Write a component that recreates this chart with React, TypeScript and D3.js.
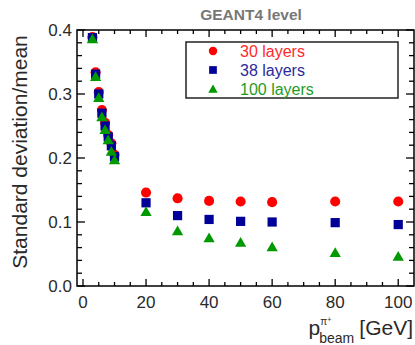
import React, { useEffect, useRef } from 'react';
import * as d3 from 'd3';

const momenta = [3, 4, 5, 6, 7, 8, 9, 10, 20, 30, 40, 50, 60, 80, 100];
const layers30 = [0.389, 0.334, 0.303, 0.275, 0.255, 0.236, 0.223, 0.205, 0.146, 0.137, 0.133, 0.132, 0.131, 0.132, 0.132];
const layers38 = [0.388, 0.331, 0.300, 0.270, 0.250, 0.233, 0.219, 0.202, 0.130, 0.110, 0.104, 0.101, 0.100, 0.099, 0.096];
const layers100 = [0.386, 0.327, 0.294, 0.264, 0.244, 0.228, 0.210, 0.197, 0.116, 0.086, 0.075, 0.068, 0.061, 0.052, 0.046];
const seriesNames = ['30 layers', '38 layers', '100 layers'];
const seriesColors = ['#ff0000', '#000099', '#009900'];
const textColors = ['#ff2a2a', '#2a2a9a', '#1f9a1f'];
const yTicks = [0.0, 0.1, 0.2, 0.3, 0.4];
const xTicks = [0, 20, 40, 60, 80, 100];

const W = 415;
const H = 345;
const m = { left: 77, right: 1, top: 30, bottom: 59 };

function App() {
  const ref = useRef<SVGSVGElement>(null);

  useEffect(() => {
    const svg = d3.select(ref.current);
    svg.selectAll('*').remove();

    const x = d3.scaleLinear().domain([-1.9, 105]).range([m.left, W - m.right]);
    const y = d3.scaleLinear().domain([0, 0.4]).range([H - m.bottom, m.top]);
    const font = "'Liberation Sans', Arial, sans-serif";

    // frame
    svg.append('rect')
      .attr('x', m.left).attr('y', m.top)
      .attr('width', W - m.right - m.left).attr('height', H - m.bottom - m.top)
      .attr('fill', 'none').attr('stroke', '#000').attr('stroke-width', 1.5);

    const xMinor = d3.range(0, 105, 5);
    const yMinor = d3.range(0, 0.401, 0.02);
    const ticks = svg.append('g').attr('stroke', '#000').attr('stroke-width', 1.3);
    xMinor.forEach(v => {
      const len = v % 20 === 0 ? 7 : 4;
      ticks.append('line').attr('x1', x(v)).attr('x2', x(v)).attr('y1', y(0)).attr('y2', y(0) - len);
      ticks.append('line').attr('x1', x(v)).attr('x2', x(v)).attr('y1', y(0.4)).attr('y2', y(0.4) + len);
    });
    yMinor.forEach((v, i) => {
      const len = i % 5 === 0 ? 8 : 5;
      ticks.append('line').attr('y1', y(v)).attr('y2', y(v)).attr('x1', x.range()[0]).attr('x2', x.range()[0] + len);
      ticks.append('line').attr('y1', y(v)).attr('y2', y(v)).attr('x1', x.range()[1]).attr('x2', x.range()[1] - len);
    });

    // tick labels
    svg.append('g').selectAll('text').data(xTicks).join('text')
      .attr('x', d => x(d)).attr('y', y(0) + 22)
      .attr('text-anchor', 'middle').attr('font-family', font).attr('font-size', 17).attr('fill', '#2a2a2a')
      .text(d => d);
    svg.append('g').selectAll('text').data(yTicks).join('text')
      .attr('x', m.left - 5).attr('y', d => y(d) + 6)
      .attr('text-anchor', 'end').attr('font-family', font).attr('font-size', 17).attr('fill', '#2a2a2a')
      .text(d => d.toFixed(1));

    // axis titles
    svg.append('text')
      .attr('transform', `translate(27,${(m.top + H - m.bottom) / 2 - 6}) rotate(-90)`)
      .attr('text-anchor', 'middle').attr('font-family', font).attr('font-size', 21).attr('fill', '#2a2a2a')
      .text('Standard deviation/mean');

    const xl = svg.append('text')
      .attr('x', W - 2).attr('y', 335).attr('text-anchor', 'end')
      .attr('font-family', font).attr('font-size', 21).attr('fill', '#2a2a2a');
    xl.append('tspan').text('p');
    xl.append('tspan').attr('font-size', 10).attr('dy', -10).text('π');
    xl.append('tspan').attr('font-size', 7).attr('dy', -3).text('+');
    xl.append('tspan').attr('font-size', 14).attr('dx', -12).attr('dy', 21).text('beam');
    xl.append('tspan').attr('dx', 5).attr('dy', -8).text('[GeV]');

    svg.append('text')
      .attr('x', 251).attr('y', 20).attr('text-anchor', 'middle')
      .attr('font-family', font).attr('font-size', 15.5).attr('font-weight', 'bold').attr('fill', '#777')
      .text('GEANT4 level');

    const seriesData = [layers30, layers38, layers100];
    const symbols = [d3.symbolCircle, d3.symbolSquare, d3.symbolTriangle];
    const sizes = [80, 85, 55];

    seriesData.forEach((vals, si) => {
      const sym = d3.symbol().type(symbols[si]).size(sizes[si]);
      svg.append('g').selectAll('path').data(momenta).join('path')
        .attr('d', sym)
        .attr('transform', (d, i) => `translate(${x(d)},${y(vals[i]) + (si === 2 ? 1 : 0)})`)
        .attr('fill', seriesColors[si]);
    });

    // legend
    const lg = svg.append('g');
    lg.append('rect').attr('x', 186).attr('y', 42).attr('width', 212).attr('height', 56)
      .attr('fill', '#fff').attr('stroke', '#222').attr('stroke-width', 1.5);
    seriesNames.forEach((name, i) => {
      const cy = 51 + i * 19;
      lg.append('path').attr('d', d3.symbol().type(symbols[i]).size(sizes[i] * 0.7)())
        .attr('transform', `translate(213,${cy + (i === 2 ? 1 : 0)})`).attr('fill', seriesColors[i]);
      lg.append('text').attr('x', 240).attr('y', cy + 6)
        .attr('font-family', font).attr('font-size', 16).attr('fill', textColors[i])
        .text(name);
    });
  }, []);

  return (
    <svg ref={ref} width={W} height={H}
      style={{ position: 'absolute', left: 0, top: 0, background: '#fff' }} />
  );
}

export default App;
